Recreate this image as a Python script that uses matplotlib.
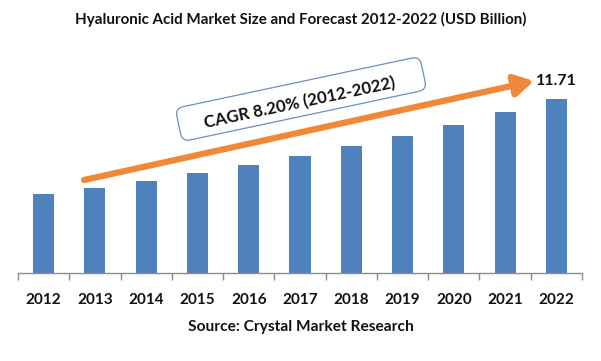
import matplotlib
matplotlib.use("Agg")
import matplotlib.pyplot as plt
from matplotlib.patches import FancyBboxPatch, FancyArrowPatch
from matplotlib.transforms import Affine2D

years = ["2012", "2013", "2014", "2015", "2016", "2017", "2018", "2019", "2020", "2021", "2022"]
values = [5.30, 5.70, 6.17, 6.71, 7.25, 7.86, 8.54, 9.21, 9.95, 10.83, 11.71]
title = "Hyaluronic Acid Market Size and Forecast 2012-2022 (USD Billion)"
source = "Source: Crystal Market Research"
cagr_text = "CAGR 8.20% (2012-2022)"
end_label = "11.71"

plt.rcParams['font.family'] = ['Lato', 'DejaVu Sans']

W, H = 601, 361
fig = plt.figure(figsize=(W / 100, H / 100), dpi=100)
fig.patch.set_facecolor("white")

ymax = 12.5
px_per_unit = 14.82
ax_bottom_px = 272.5
ax_h = ymax * px_per_unit
ax = fig.add_axes([18 / W, 1 - ax_bottom_px / H, 564 / W, ax_h / H])

x = range(len(years))
ax.bar(x, values, width=0.41, color="#4F81BD", zorder=2)
ax.set_xlim(-0.5, len(years) - 0.5)
ax.set_ylim(0, ymax)

for s in ["top", "right", "left"]:
    ax.spines[s].set_visible(False)
ax.spines["bottom"].set_color("#8C8C8C")
ax.spines["bottom"].set_linewidth(1.0)
ax.set_yticks([])

ax.set_xticks([i - 0.5 for i in range(len(years) + 1)], minor=False)
ax.set_xticklabels([])
ax.tick_params(axis="x", which="major", length=5, color="#8C8C8C", width=1.0)
ax.set_xticks(list(x), minor=True)
ax.set_xticklabels(years, minor=True, fontsize=11, fontweight="bold", color="#111111")
ax.tick_params(axis="x", which="minor", length=0, pad=15)

def fx(px):
    return px / W

def fy(py):
    return 1 - py / H

fig.text(0.5, fy(19), title, ha="center", va="center", fontsize=10.9, fontweight="bold", color="#111111")
fig.text(0.5, fy(327), source, ha="center", va="center", fontsize=11.2, fontweight="bold", color="#111111")

# trend arrow
fig.add_artist(FancyArrowPatch(
    (fx(84), fy(180)), (fx(534), fy(81)), transform=fig.transFigure,
    arrowstyle="-|>,head_length=7,head_width=4", mutation_scale=1.6,
    color="#F0883A", linewidth=4.5, shrinkA=0, shrinkB=0, zorder=5))

fig.text(fx(556), fy(81), end_label, ha="center", va="center", fontsize=11.5, fontweight="bold", color="#111111")

# CAGR rotated rounded box (pixel coordinates, y measured from bottom)
cx, cy = 301, H - 99
bw, bh = 250, 34
pix2fig = Affine2D().scale(1 / W, 1 / H) + fig.transFigure
box = FancyBboxPatch((cx - bw / 2, cy - bh / 2), bw, bh,
                     boxstyle="round,pad=0,rounding_size=8",
                     facecolor="white", edgecolor="#6F8FC0", linewidth=0.9,
                     transform=Affine2D().rotate_deg_around(cx, cy, 12) + pix2fig,
                     zorder=6)
fig.add_artist(box)
fig.text(fx(300), fy(103), cagr_text, ha="center", va="center", rotation=12,
         rotation_mode="anchor", fontsize=12.2, fontweight="bold", color="#111111", zorder=7)

fig.savefig("out.png", dpi=100, facecolor="white")
